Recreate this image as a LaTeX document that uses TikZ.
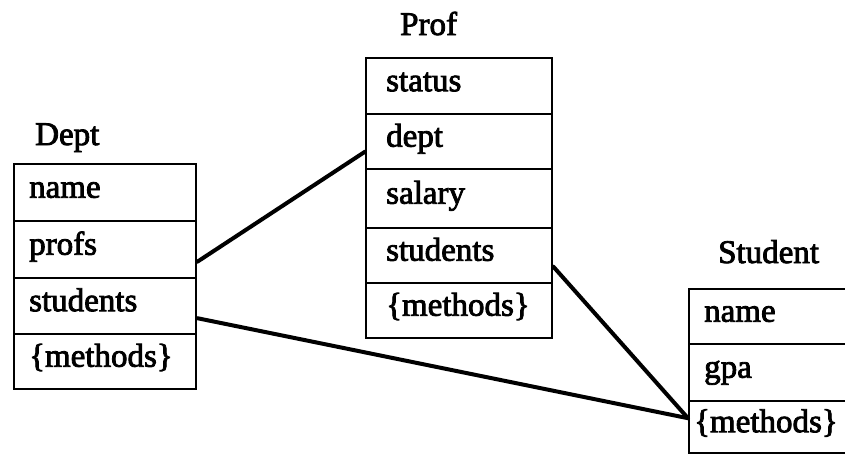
\documentclass[tikz,border=0pt]{standalone}
\usepackage{fontspec}
\newfontfamily\fnt{Liberation Serif}[FakeBold=2.5]
\tikzset{
  fld/.style={draw, line width=2.4pt, rectangle, anchor=north west, align=left,
    text height=20pt, text depth=10pt, inner ysep=0pt,
    font=\fnt\fontsize{33}{40}\selectfont},
  deptrow/.style={fld, text width=152pt, inner xsep=15pt},
  profrow/.style={fld, text width=146pt, inner xsep=20pt},
  studrow/.style={fld, text width=140pt, inner xsep=15pt},
  ttl/.style={anchor=base west, inner sep=0pt, font=\fnt\fontsize{33}{40}\selectfont},
  link/.style={line width=4pt, line cap=round}
}
\begin{document}
\begin{tikzpicture}[x=1pt,y=-1pt]
\useasboundingbox (0,0) rectangle (845,455);
\clip (0,0) rectangle (845,455);
% titles
\node[ttl] (tdept) at (35,145) {Dept};
\node[ttl] (tprof) at (400,35) {Prof};
\node[ttl] (tstud) at (718,263) {Student};
% Dept
\node[deptrow, minimum height=57pt] (d1) at (13,163) {name};
\node[deptrow, minimum height=57pt] (d2) at (13,220) {profs};
\node[deptrow, minimum height=56pt] (d3) at (13,277) {students};
\node[deptrow, minimum height=55pt] (d4) at (13,333) {\{methods\}};
% Prof
\node[profrow, minimum height=56pt] (p1) at (365,57) {status};
\node[profrow, minimum height=55pt] (p2) at (365,113) {dept};
\node[profrow, minimum height=59pt] (p3) at (365,168) {salary};
\node[profrow, minimum height=55pt] (p4) at (365,227) {students};
\node[profrow, minimum height=55pt] (p5) at (365,282) {\{methods\}};
% Student
\node[studrow, minimum height=55pt] (s1) at (688,288) {name};
\node[studrow, minimum height=57pt] (s2) at (688,343) {gpa};
\node[studrow, minimum height=52pt, text width=150pt, inner xsep=5pt] (s3) at (688,400) {\{methods\}};
% connectors
\draw[link] ([yshift=-12pt]d2.east) -- ([yshift=-10pt]p2.west);
\draw[link] ([yshift=-12pt]d3.east) -- ([yshift=9pt]s3.west);
\draw[link] ([yshift=-11pt]p4.east) -- ([yshift=9pt]s3.west);
\end{tikzpicture}
\end{document}
